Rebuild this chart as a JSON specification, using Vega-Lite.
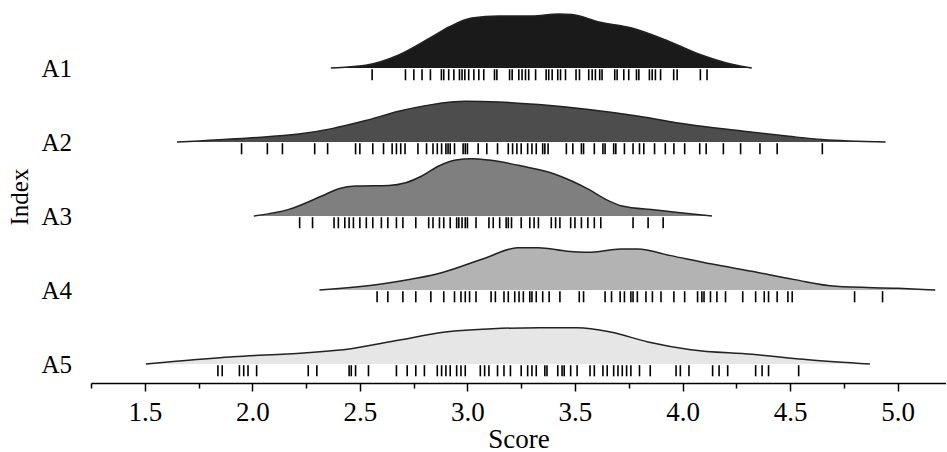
{
  "$schema": "https://vega.github.io/schema/vega-lite/v6.json",
  "padding": {"left": 8, "top": 11, "right": 0, "bottom": 0},
  "autosize": {"type": "pad"},
  "bounds": "flush",
  "config": {"view": {"stroke": null}, "font": "Liberation Serif"},
  "data": {"values": [
    {"g":"A1","x":2.365,"d":0},{"g":"A1","x":2.527,"d":0.045},{"g":"A1","x":2.681,"d":0.217},{"g":"A1","x":2.834,"d":0.517},{"g":"A1","x":2.914,"d":0.683},{"g":"A1","x":3.02,"d":0.833},{"g":"A1","x":3.146,"d":0.867},{"g":"A1","x":3.299,"d":0.867},{"g":"A1","x":3.425,"d":0.9},{"g":"A1","x":3.486,"d":0.89},{"g":"A1","x":3.611,"d":0.767},{"g":"A1","x":3.764,"d":0.667},{"g":"A1","x":3.922,"d":0.467},{"g":"A1","x":4.075,"d":0.233},{"g":"A1","x":4.229,"d":0.062},{"g":"A1","x":4.322,"d":0},
    {"g":"A2","x":1.65,"d":0},{"g":"A2","x":1.984,"d":0.067},{"g":"A2","x":2.216,"d":0.133},{"g":"A2","x":2.37,"d":0.223},{"g":"A2","x":2.527,"d":0.357},{"g":"A2","x":2.681,"d":0.512},{"g":"A2","x":2.834,"d":0.623},{"g":"A2","x":2.992,"d":0.678},{"g":"A2","x":3.146,"d":0.667},{"g":"A2","x":3.332,"d":0.623},{"g":"A2","x":3.564,"d":0.54},{"g":"A2","x":3.797,"d":0.428},{"g":"A2","x":4.029,"d":0.29},{"g":"A2","x":4.261,"d":0.19},{"g":"A2","x":4.494,"d":0.095},{"g":"A2","x":4.648,"d":0.04},{"g":"A2","x":4.944,"d":0},
    {"g":"A3","x":2.007,"d":0},{"g":"A3","x":2.17,"d":0.11},{"g":"A3","x":2.323,"d":0.333},{"g":"A3","x":2.402,"d":0.455},{"g":"A3","x":2.481,"d":0.5},{"g":"A3","x":2.635,"d":0.51},{"g":"A3","x":2.713,"d":0.555},{"g":"A3","x":2.788,"d":0.667},{"g":"A3","x":2.867,"d":0.833},{"g":"A3","x":2.946,"d":0.933},{"g":"A3","x":3.02,"d":0.955},{"g":"A3","x":3.099,"d":0.933},{"g":"A3","x":3.252,"d":0.833},{"g":"A3","x":3.411,"d":0.693},{"g":"A3","x":3.485,"d":0.583},{"g":"A3","x":3.564,"d":0.443},{"g":"A3","x":3.643,"d":0.277},{"g":"A3","x":3.718,"d":0.167},{"g":"A3","x":3.876,"d":0.1},{"g":"A3","x":4.0,"d":0.05},{"g":"A3","x":4.137,"d":0},
    {"g":"A4","x":2.312,"d":0},{"g":"A4","x":2.6,"d":0.1},{"g":"A4","x":2.888,"d":0.295},{"g":"A4","x":3.081,"d":0.53},{"g":"A4","x":3.234,"d":0.705},{"g":"A4","x":3.33,"d":0.705},{"g":"A4","x":3.465,"d":0.645},{"g":"A4","x":3.561,"d":0.628},{"g":"A4","x":3.714,"d":0.683},{"g":"A4","x":3.791,"d":0.683},{"g":"A4","x":3.945,"d":0.573},{"g":"A4","x":4.137,"d":0.433},{"g":"A4","x":4.329,"d":0.307},{"g":"A4","x":4.521,"d":0.173},{"g":"A4","x":4.713,"d":0.062},{"g":"A4","x":5.002,"d":0.028},{"g":"A4","x":5.175,"d":0},
    {"g":"A5","x":1.505,"d":0},{"g":"A5","x":1.911,"d":0.122},{"g":"A5","x":2.24,"d":0.183},{"g":"A5","x":2.459,"d":0.255},{"g":"A5","x":2.678,"d":0.395},{"g":"A5","x":2.898,"d":0.533},{"g":"A5","x":3.117,"d":0.588},{"g":"A5","x":3.336,"d":0.605},{"g":"A5","x":3.512,"d":0.605},{"g":"A5","x":3.665,"d":0.533},{"g":"A5","x":3.84,"d":0.367},{"g":"A5","x":4.038,"d":0.238},{"g":"A5","x":4.323,"d":0.162},{"g":"A5","x":4.586,"d":0.072},{"g":"A5","x":4.871,"d":0},
    {"g":"A1","r":2.557},{"g":"A1","r":2.712},{"g":"A1","r":2.751},{"g":"A1","r":2.789},{"g":"A1","r":2.828},{"g":"A1","r":2.879},{"g":"A1","r":2.89},{"g":"A1","r":2.913},{"g":"A1","r":2.937},{"g":"A1","r":2.963},{"g":"A1","r":2.975},{"g":"A1","r":2.988},{"g":"A1","r":3.006},{"g":"A1","r":3.03},{"g":"A1","r":3.053},{"g":"A1","r":3.076},{"g":"A1","r":3.126},{"g":"A1","r":3.137},{"g":"A1","r":3.196},{"g":"A1","r":3.208},{"g":"A1","r":3.239},{"g":"A1","r":3.254},{"g":"A1","r":3.27},{"g":"A1","r":3.285},{"g":"A1","r":3.317},{"g":"A1","r":3.366},{"g":"A1","r":3.378},{"g":"A1","r":3.394},{"g":"A1","r":3.42},{"g":"A1","r":3.433},{"g":"A1","r":3.456},{"g":"A1","r":3.505},{"g":"A1","r":3.521},{"g":"A1","r":3.564},{"g":"A1","r":3.58},{"g":"A1","r":3.595},{"g":"A1","r":3.615},{"g":"A1","r":3.626},{"g":"A1","r":3.685},{"g":"A1","r":3.696},{"g":"A1","r":3.727},{"g":"A1","r":3.75},{"g":"A1","r":3.786},{"g":"A1","r":3.797},{"g":"A1","r":3.846},{"g":"A1","r":3.859},{"g":"A1","r":3.874},{"g":"A1","r":3.898},{"g":"A1","r":3.959},{"g":"A1","r":3.975},{"g":"A1","r":4.083},{"g":"A1","r":4.114},
    {"g":"A2","r":1.95},{"g":"A2","r":2.07},{"g":"A2","r":2.14},{"g":"A2","r":2.29},{"g":"A2","r":2.35},{"g":"A2","r":2.48},{"g":"A2","r":2.5},{"g":"A2","r":2.56},{"g":"A2","r":2.61},{"g":"A2","r":2.65},{"g":"A2","r":2.67},{"g":"A2","r":2.69},{"g":"A2","r":2.71},{"g":"A2","r":2.77},{"g":"A2","r":2.81},{"g":"A2","r":2.84},{"g":"A2","r":2.86},{"g":"A2","r":2.88},{"g":"A2","r":2.9},{"g":"A2","r":2.91},{"g":"A2","r":2.92},{"g":"A2","r":2.94},{"g":"A2","r":2.98},{"g":"A2","r":2.99},{"g":"A2","r":3.0},{"g":"A2","r":3.05},{"g":"A2","r":3.09},{"g":"A2","r":3.14},{"g":"A2","r":3.19},{"g":"A2","r":3.21},{"g":"A2","r":3.23},{"g":"A2","r":3.25},{"g":"A2","r":3.28},{"g":"A2","r":3.3},{"g":"A2","r":3.32},{"g":"A2","r":3.35},{"g":"A2","r":3.36},{"g":"A2","r":3.375},{"g":"A2","r":3.46},{"g":"A2","r":3.49},{"g":"A2","r":3.53},{"g":"A2","r":3.54},{"g":"A2","r":3.59},{"g":"A2","r":3.63},{"g":"A2","r":3.64},{"g":"A2","r":3.68},{"g":"A2","r":3.69},{"g":"A2","r":3.73},{"g":"A2","r":3.77},{"g":"A2","r":3.8},{"g":"A2","r":3.82},{"g":"A2","r":3.87},{"g":"A2","r":3.92},{"g":"A2","r":3.96},{"g":"A2","r":4.01},{"g":"A2","r":4.08},{"g":"A2","r":4.11},{"g":"A2","r":4.19},{"g":"A2","r":4.27},{"g":"A2","r":4.36},{"g":"A2","r":4.44},{"g":"A2","r":4.65},
    {"g":"A3","r":2.22},{"g":"A3","r":2.28},{"g":"A3","r":2.38},{"g":"A3","r":2.4},{"g":"A3","r":2.43},{"g":"A3","r":2.45},{"g":"A3","r":2.47},{"g":"A3","r":2.5},{"g":"A3","r":2.53},{"g":"A3","r":2.56},{"g":"A3","r":2.6},{"g":"A3","r":2.63},{"g":"A3","r":2.67},{"g":"A3","r":2.7},{"g":"A3","r":2.76},{"g":"A3","r":2.82},{"g":"A3","r":2.84},{"g":"A3","r":2.87},{"g":"A3","r":2.89},{"g":"A3","r":2.92},{"g":"A3","r":2.95},{"g":"A3","r":2.96},{"g":"A3","r":2.975},{"g":"A3","r":2.99},{"g":"A3","r":3.0},{"g":"A3","r":3.04},{"g":"A3","r":3.1},{"g":"A3","r":3.12},{"g":"A3","r":3.15},{"g":"A3","r":3.18},{"g":"A3","r":3.19},{"g":"A3","r":3.205},{"g":"A3","r":3.25},{"g":"A3","r":3.29},{"g":"A3","r":3.31},{"g":"A3","r":3.33},{"g":"A3","r":3.39},{"g":"A3","r":3.41},{"g":"A3","r":3.43},{"g":"A3","r":3.48},{"g":"A3","r":3.5},{"g":"A3","r":3.53},{"g":"A3","r":3.56},{"g":"A3","r":3.59},{"g":"A3","r":3.62},{"g":"A3","r":3.77},{"g":"A3","r":3.84},{"g":"A3","r":3.91},
    {"g":"A4","r":2.58},{"g":"A4","r":2.63},{"g":"A4","r":2.7},{"g":"A4","r":2.76},{"g":"A4","r":2.83},{"g":"A4","r":2.89},{"g":"A4","r":2.94},{"g":"A4","r":2.97},{"g":"A4","r":2.99},{"g":"A4","r":3.01},{"g":"A4","r":3.04},{"g":"A4","r":3.11},{"g":"A4","r":3.13},{"g":"A4","r":3.17},{"g":"A4","r":3.19},{"g":"A4","r":3.22},{"g":"A4","r":3.24},{"g":"A4","r":3.26},{"g":"A4","r":3.29},{"g":"A4","r":3.3},{"g":"A4","r":3.32},{"g":"A4","r":3.35},{"g":"A4","r":3.38},{"g":"A4","r":3.43},{"g":"A4","r":3.52},{"g":"A4","r":3.54},{"g":"A4","r":3.64},{"g":"A4","r":3.67},{"g":"A4","r":3.71},{"g":"A4","r":3.73},{"g":"A4","r":3.76},{"g":"A4","r":3.77},{"g":"A4","r":3.79},{"g":"A4","r":3.83},{"g":"A4","r":3.86},{"g":"A4","r":3.9},{"g":"A4","r":3.96},{"g":"A4","r":4.01},{"g":"A4","r":4.07},{"g":"A4","r":4.09},{"g":"A4","r":4.1},{"g":"A4","r":4.13},{"g":"A4","r":4.16},{"g":"A4","r":4.2},{"g":"A4","r":4.28},{"g":"A4","r":4.34},{"g":"A4","r":4.38},{"g":"A4","r":4.4},{"g":"A4","r":4.44},{"g":"A4","r":4.49},{"g":"A4","r":4.51},{"g":"A4","r":4.8},{"g":"A4","r":4.93},
    {"g":"A5","r":1.84},{"g":"A5","r":1.86},{"g":"A5","r":1.94},{"g":"A5","r":1.96},{"g":"A5","r":1.98},{"g":"A5","r":2.02},{"g":"A5","r":2.26},{"g":"A5","r":2.3},{"g":"A5","r":2.45},{"g":"A5","r":2.46},{"g":"A5","r":2.48},{"g":"A5","r":2.54},{"g":"A5","r":2.67},{"g":"A5","r":2.72},{"g":"A5","r":2.76},{"g":"A5","r":2.8},{"g":"A5","r":2.86},{"g":"A5","r":2.88},{"g":"A5","r":2.9},{"g":"A5","r":2.92},{"g":"A5","r":2.95},{"g":"A5","r":2.97},{"g":"A5","r":2.99},{"g":"A5","r":3.06},{"g":"A5","r":3.08},{"g":"A5","r":3.1},{"g":"A5","r":3.14},{"g":"A5","r":3.17},{"g":"A5","r":3.2},{"g":"A5","r":3.25},{"g":"A5","r":3.28},{"g":"A5","r":3.3},{"g":"A5","r":3.32},{"g":"A5","r":3.36},{"g":"A5","r":3.37},{"g":"A5","r":3.42},{"g":"A5","r":3.44},{"g":"A5","r":3.45},{"g":"A5","r":3.48},{"g":"A5","r":3.51},{"g":"A5","r":3.57},{"g":"A5","r":3.59},{"g":"A5","r":3.63},{"g":"A5","r":3.65},{"g":"A5","r":3.68},{"g":"A5","r":3.7},{"g":"A5","r":3.72},{"g":"A5","r":3.74},{"g":"A5","r":3.76},{"g":"A5","r":3.8},{"g":"A5","r":3.85},{"g":"A5","r":3.97},{"g":"A5","r":3.99},{"g":"A5","r":4.03},{"g":"A5","r":4.14},{"g":"A5","r":4.17},{"g":"A5","r":4.21},{"g":"A5","r":4.34},{"g":"A5","r":4.37},{"g":"A5","r":4.4},{"g":"A5","r":4.54}
  ]},
  "facet": {
    "row": {
      "field": "g", "type": "nominal", "title": "Index",
      "header": {
        "labelAngle": 0, "labelAlign": "left", "labelAnchor": "start",
        "labelBaseline": "line-bottom", "labelLineHeight": 35,
        "labelFont": "Liberation Serif", "labelFontSize": 25, "labelColor": "#000",
        "labelPadding": 19,
        "titleFont": "Liberation Serif", "titleFontSize": 25, "titleFontWeight": "normal",
        "titleColor": "#000", "titlePadding": -2
      }
    }
  },
  "spacing": {"row": 0},
  "spec": {
    "width": 855,
    "height": 74,
    "layer": [
      {
        "transform": [{"filter": "isValid(datum.d)"}],
        "mark": {"type": "area", "interpolate": "monotone"},
        "encoding": {
          "x": {"field": "x", "type": "quantitative", "title": "Score",
                "scale": {"domain": [1.25, 5.225], "nice": false, "zero": false},
                "axis": {
                  "values": [1.25, 1.5, 1.75, 2.0, 2.25, 2.5, 2.75, 3.0, 3.25, 3.5, 3.75, 4.0, 4.25, 4.5, 4.75, 5.0],
                  "labelExpr": "(datum.value * 2) % 1 == 0 ? format(datum.value, '.1f') : ''",
                  "grid": false,
                  "domainColor": "#000", "domainWidth": 1.5,
                  "tickColor": "#000", "tickWidth": 1.5,
                  "tickSize": {"condition": {"test": "(datum.value * 2) % 1 != 0", "value": 5}, "value": 8},
                  "labelFont": "Liberation Serif", "labelFontSize": 27, "labelColor": "#000",
                  "labelPadding": 8, "labelFlush": false, "labelOverlap": false,
                  "titleFont": "Liberation Serif", "titleFontSize": 27, "titleFontWeight": "normal",
                  "titleColor": "#000", "titlePadding": 1
                }},
          "y": {"field": "d", "type": "quantitative",
                "scale": {"domain": [-0.3167, 0.9167], "nice": false, "zero": false},
                "axis": null},
          "y2": {"datum": 0},
          "color": {"field": "g", "type": "nominal",
                    "scale": {"domain": ["A1", "A2", "A3", "A4", "A5"],
                              "range": ["#1a1a1a", "#4d4d4d", "#7f7f7f", "#b3b3b3", "#e6e6e6"]},
                    "legend": null}
        }
      },
      {
        "transform": [{"filter": "isValid(datum.d)"}],
        "mark": {"type": "line", "interpolate": "monotone", "color": "#222222", "strokeWidth": 1.5},
        "encoding": {
          "x": {"field": "x", "type": "quantitative", "title": "Score"},
          "y": {"field": "d", "type": "quantitative"}
        }
      },
      {
        "transform": [{"filter": "isValid(datum.r)"}],
        "mark": {"type": "rule", "color": "#000000", "strokeWidth": 1.6},
        "encoding": {
          "x": {"field": "r", "type": "quantitative", "title": "Score"},
          "y": {"datum": -0.02},
          "y2": {"datum": -0.205}
        }
      }
    ]
  }
}
